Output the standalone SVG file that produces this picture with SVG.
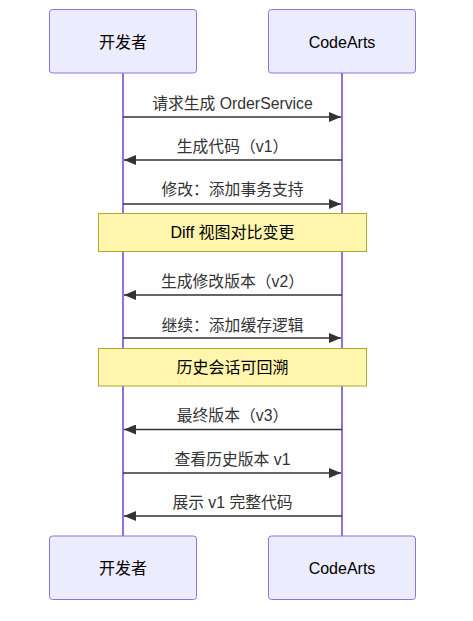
<svg xmlns="http://www.w3.org/2000/svg" width="473" height="621" viewBox="0 0 473 621">
<style>
.actor{fill:#ECECFF;stroke:#9370DB;stroke-width:1}
.life{stroke:#9370DB;stroke-width:2}
.atext{font-family:"Liberation Sans","Noto Sans CJK SC",sans-serif;font-size:16px;fill:#000;text-anchor:middle;dominant-baseline:central}
.msg{stroke:#333;stroke-width:1.5;fill:none}
.mtext{font-family:"Liberation Sans","Noto Sans CJK SC",sans-serif;font-size:15.8px;fill:#333;text-anchor:middle;dominant-baseline:central}
.note{fill:#FFF5AD;stroke:#AAAA33;stroke-width:1}
.ntext{font-family:"Liberation Sans","Noto Sans CJK SC",sans-serif;font-size:16px;fill:#000;text-anchor:middle;dominant-baseline:central}
</style>
<defs>
<marker id="ah" viewBox="0 0 12 10" refX="12" refY="5" markerWidth="12" markerHeight="10" markerUnits="userSpaceOnUse" orient="auto">
<path d="M0,0 L12,5 L0,10 z" fill="#333"/>
</marker>
</defs>
<g id="lifelines">
<line class="life" x1="123" y1="73" x2="123" y2="536"/>
<line class="life" x1="342" y1="73" x2="342" y2="536"/>
</g>
<g id="actor-dev-top"><rect class="actor" x="49.5" y="9.5" width="147" height="63.5" rx="3"/><text class="atext" x="123" y="42">开发者</text></g>
<g id="actor-ca-top"><rect class="actor" x="268.5" y="9.5" width="147" height="63.5" rx="3"/><text class="atext" x="342" y="42">CodeArts</text></g>
<g id="actor-dev-bottom"><rect class="actor" x="49.5" y="536" width="147" height="63.5" rx="3"/><text class="atext" x="123" y="568">开发者</text></g>
<g id="actor-ca-bottom"><rect class="actor" x="268.5" y="536" width="147" height="63.5" rx="3"/><text class="atext" x="342" y="568">CodeArts</text></g>
<g id="note1"><rect class="note" x="98.5" y="213.5" width="268" height="38"/><text class="ntext" x="232.5" y="232.5">Diff 视图对比变更</text></g>
<g id="note2"><rect class="note" x="98.5" y="348.5" width="268" height="37.5"/><text class="ntext" x="232.5" y="367">历史会话可回溯</text></g>
<g id="connectors">
<line class="msg" x1="123" y1="117" x2="341" y2="117" marker-end="url(#ah)"/>
<line class="msg" x1="342" y1="160" x2="124" y2="160" marker-end="url(#ah)"/>
<line class="msg" x1="123" y1="204" x2="341" y2="204" marker-end="url(#ah)"/>
<line class="msg" x1="342" y1="295" x2="124" y2="295" marker-end="url(#ah)"/>
<line class="msg" x1="123" y1="338" x2="341" y2="338" marker-end="url(#ah)"/>
<line class="msg" x1="342" y1="429.5" x2="124" y2="429.5" marker-end="url(#ah)"/>
<line class="msg" x1="123" y1="473" x2="341" y2="473" marker-end="url(#ah)"/>
<line class="msg" x1="342" y1="516" x2="124" y2="516" marker-end="url(#ah)"/>
</g>
<g id="labels">
<text class="mtext" x="232.5" y="103">请求生成 OrderService</text>
<text class="mtext" x="232.5" y="146.5">生成代码（v1）</text>
<text class="mtext" x="232.5" y="189.5">修改：添加事务支持</text>
<text class="mtext" x="232.5" y="281">生成修改版本（v2）</text>
<text class="mtext" x="232.5" y="325">继续：添加缓存逻辑</text>
<text class="mtext" x="232.5" y="415">最终版本（v3）</text>
<text class="mtext" x="232.5" y="459">查看历史版本 v1</text>
<text class="mtext" x="232.5" y="502">展示 v1 完整代码</text>
</g>
</svg>
